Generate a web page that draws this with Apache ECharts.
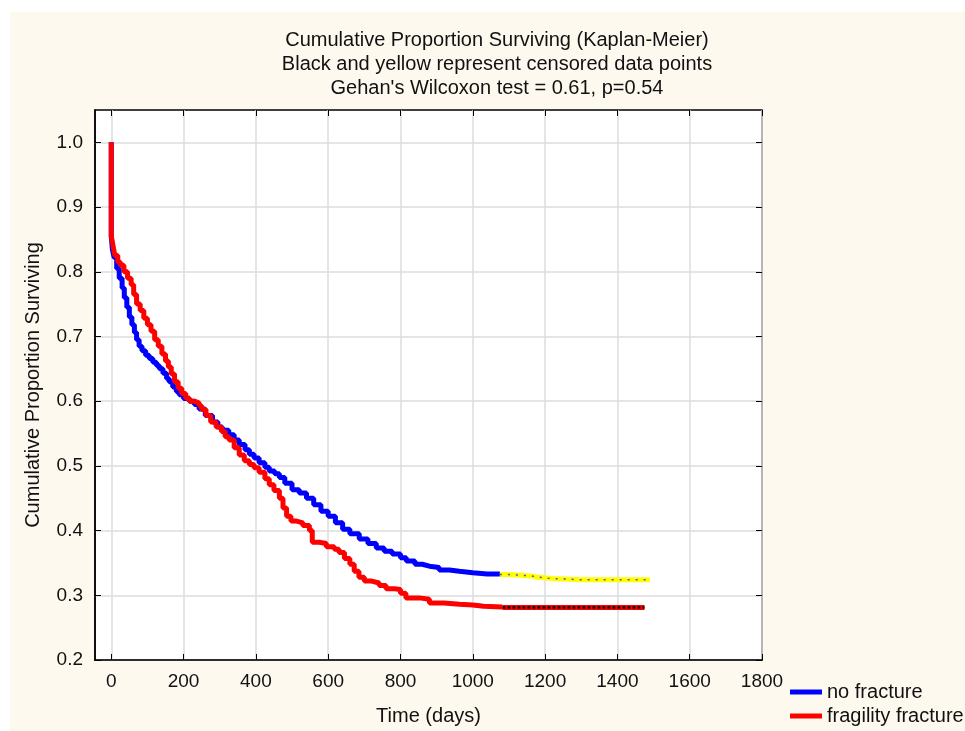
<!DOCTYPE html>
<html>
<head>
<meta charset="utf-8">
<script src="https://cdn.jsdelivr.net/npm/echarts@6/dist/echarts.min.js"></script>
<style>
html,body{margin:0;padding:0;background:#ffffff;}
#bg{position:absolute;left:10px;top:12px;width:955px;height:719px;background:#FEF9EF;}
#chart{position:absolute;left:0;top:0;width:965px;height:731px;}
</style>
</head>
<body>
<div id="bg"></div>
<div id="chart"></div>
<script>
// ---- Data ----
const titleLines = [
  "Cumulative Proportion Surviving (Kaplan-Meier)",
  "Black and yellow represent censored data points",
  "Gehan's Wilcoxon test = 0.61, p=0.54"
];
const xTicks = [0, 200, 400, 600, 800, 1000, 1200, 1400, 1600, 1800];
const yTicks = [0.2, 0.3, 0.4, 0.5, 0.6, 0.7, 0.8, 0.9, 1.0];
const seriesNames = ["no fracture", "fragility fracture"];

// no fracture (events portion)
const noFxTime = [0, 0, 3, 8, 15, 22, 30, 36, 43, 50, 57, 64, 70, 77, 85, 95, 105, 115, 125, 133, 143, 153, 160, 170, 180, 188, 200, 216, 230, 243, 260, 280, 295, 307, 325, 340, 354, 370, 382, 395, 409, 425, 437, 452, 465, 480, 500, 520, 540, 560, 580, 600, 620, 640, 660, 686, 710, 733, 755, 777, 800, 816, 840, 860, 880, 907, 935, 963, 1000, 1040, 1075];
const noFxSurv = [1.0, 0.855, 0.835, 0.822, 0.805, 0.79, 0.775, 0.76, 0.745, 0.73, 0.718, 0.706, 0.695, 0.685, 0.678, 0.671, 0.666, 0.66, 0.655, 0.65, 0.643, 0.635, 0.63, 0.622, 0.615, 0.61, 0.604, 0.6, 0.595, 0.588, 0.578, 0.568, 0.56, 0.555, 0.548, 0.54, 0.533, 0.525, 0.518, 0.512, 0.505, 0.498, 0.492, 0.488, 0.482, 0.473, 0.463, 0.458, 0.45, 0.44, 0.43, 0.422, 0.412, 0.402, 0.395, 0.387, 0.38, 0.373, 0.368, 0.364, 0.358, 0.353, 0.348, 0.345, 0.343, 0.339, 0.337, 0.335, 0.333, 0.333, 0.332];
// no fracture (censored portion)
const noFxCensTime = [1075, 1100, 1130, 1160, 1180, 1200, 1215, 1300, 1400, 1490];
const noFxCensSurv = [0.332, 0.331, 0.33, 0.328, 0.327, 0.326, 0.324, 0.324, 0.324, 0.324];

// fragility fracture (events portion)
const fragTime = [0, 0, 5, 10, 18, 25, 35, 45, 55, 62, 70, 80, 90, 100, 110, 120, 130, 140, 150, 158, 166, 175, 185, 195, 206, 216, 230, 243, 250, 262, 275, 290, 305, 315, 326, 340, 354, 368, 382, 395, 409, 425, 437, 450, 465, 475, 485, 497, 510, 530, 548, 556, 575, 595, 617, 630, 645, 660, 672, 685, 700, 720, 741, 760, 783, 800, 815, 852, 880, 920, 963, 1000, 1030, 1082];
const fragSurv = [1.0, 0.855, 0.84, 0.825, 0.815, 0.81, 0.8, 0.79, 0.78, 0.765, 0.75, 0.74, 0.728, 0.718, 0.708, 0.695, 0.685, 0.673, 0.662, 0.653, 0.642, 0.63, 0.62, 0.612, 0.605, 0.6, 0.597, 0.593, 0.587, 0.578, 0.568, 0.56, 0.553, 0.545, 0.54, 0.528, 0.517, 0.508, 0.502, 0.497, 0.49, 0.48, 0.471, 0.462, 0.45, 0.435, 0.422, 0.415, 0.412, 0.408, 0.4, 0.382, 0.38, 0.375, 0.371, 0.366, 0.357, 0.348, 0.337, 0.328, 0.322, 0.319, 0.315, 0.31, 0.309, 0.303, 0.296, 0.294, 0.288, 0.286, 0.285, 0.283, 0.282, 0.281];
// fragility fracture (censored portion)
const fragCensTime = [1082, 1200, 1300, 1400, 1475];
const fragCensSurv = [0.281, 0.281, 0.281, 0.281, 0.281];

function zip(a, b) { return a.map((v, i) => [v, b[i]]); }

const FONT = '"Liberation Sans", Arial, sans-serif';
const TXT = '#111111';

const chart = echarts.init(document.getElementById('chart'), null, {renderer: 'canvas'});

const hiddenAxisCommon = {
  axisLabel: {show: false},
  splitLine: {show: false},
  axisLine: {show: false, onZero: false}
};

const option = {
  backgroundColor: 'transparent',
  animation: false,
  textStyle: {fontFamily: FONT, color: TXT},
  graphic: titleLines.map((t, i) => ({
    type: 'text',
    x: 497,
    y: 40 + i * 24,
    style: {
      text: t,
      font: '20px ' + FONT,
      fill: TXT,
      textAlign: 'center',
      textVerticalAlign: 'middle'
    }
  })),
  grid: {
    left: 95, top: 110, width: 667, height: 550,
    show: true, backgroundColor: '#ffffff', borderColor: '#000', borderWidth: 1.5
  },
  legend: {
    data: seriesNames,
    orient: 'vertical',
    left: 790, top: 682,
    padding: 0,
    icon: 'rect',
    itemWidth: 32, itemHeight: 5,
    itemGap: 4,
    textStyle: {fontFamily: FONT, fontSize: 20, color: TXT}
  },
  xAxis: [{
    type: 'value', min: -45, max: 1800, position: 'bottom',
    name: 'Time (days)', nameLocation: 'middle', nameGap: 46,
    nameTextStyle: {fontFamily: FONT, fontSize: 20, color: TXT},
    axisLine: {show: true, onZero: false, lineStyle: {color: '#000', width: 1.5}},
    axisTick: {show: true, inside: true, length: 6, lineStyle: {color: '#000'}, customValues: xTicks},
    axisLabel: {customValues: xTicks, fontFamily: FONT, fontSize: 19, color: TXT, margin: 12,
      formatter: v => String(v)},
    splitLine: {show: true, lineStyle: {color: '#dcdcdc', width: 1.5}}
  }, Object.assign({
    type: 'value', min: -45, max: 1800, position: 'top',
    axisTick: {show: true, inside: true, length: 6, lineStyle: {color: '#000'}, customValues: xTicks}
  }, hiddenAxisCommon)],
  yAxis: [{
    type: 'value', min: 0.2, max: 1.05, position: 'left',
    name: 'Cumulative Proportion Surviving', nameLocation: 'middle', nameGap: 52,
    nameTextStyle: {fontFamily: FONT, fontSize: 20, color: TXT},
    axisLine: {show: true, onZero: false, lineStyle: {color: '#000', width: 1.5}},
    axisTick: {show: true, inside: true, length: 6, lineStyle: {color: '#000'}, customValues: yTicks},
    axisLabel: {customValues: yTicks, fontFamily: FONT, fontSize: 19, color: TXT, margin: 12,
      formatter: v => v.toFixed(1)},
    splitLine: {show: true, lineStyle: {color: '#dcdcdc', width: 1.5}}
  }, Object.assign({
    type: 'value', min: 0.2, max: 1.05, position: 'right',
    axisTick: {show: true, inside: true, length: 6, lineStyle: {color: '#000'}, customValues: yTicks}
  }, hiddenAxisCommon)],
  series: [
    {
      name: seriesNames[0], type: 'line', step: 'end', showSymbol: false, symbol: 'none',
      data: zip(noFxTime, noFxSurv), z: 3,
      itemStyle: {color: '#0000FF'},
      lineStyle: {color: '#0000FF', width: 5}
    },
    {
      name: 'no fracture censored', type: 'line', step: 'end', showSymbol: false, symbol: 'none',
      data: zip(noFxCensTime, noFxCensSurv), z: 3,
      lineStyle: {color: '#FFFF00', width: 5}
    },
    {
      name: 'no fracture censored marks', type: 'line', step: 'end', showSymbol: false, symbol: 'none',
      data: zip(noFxCensTime, noFxCensSurv), z: 4,
      lineStyle: {color: '#5a5aa0', width: 1.5, type: [2, 6]}
    },
    {
      name: seriesNames[1], type: 'line', step: 'end', showSymbol: false, symbol: 'none',
      data: zip(fragTime, fragSurv), z: 5,
      itemStyle: {color: '#FF0000'},
      lineStyle: {color: '#FF0000', width: 5}
    },
    {
      name: 'fragility fracture censored', type: 'line', step: 'end', showSymbol: false, symbol: 'none',
      data: zip(fragCensTime, fragCensSurv), z: 5,
      lineStyle: {color: '#FF0000', width: 5}
    },
    {
      name: 'fragility fracture censored marks', type: 'line', step: 'end', showSymbol: false, symbol: 'none',
      data: zip(fragCensTime, fragCensSurv), z: 6,
      lineStyle: {color: '#111111', width: 2.5, type: [3, 2]}
    }
  ]
};
chart.setOption(option);
</script>
</body>
</html>
